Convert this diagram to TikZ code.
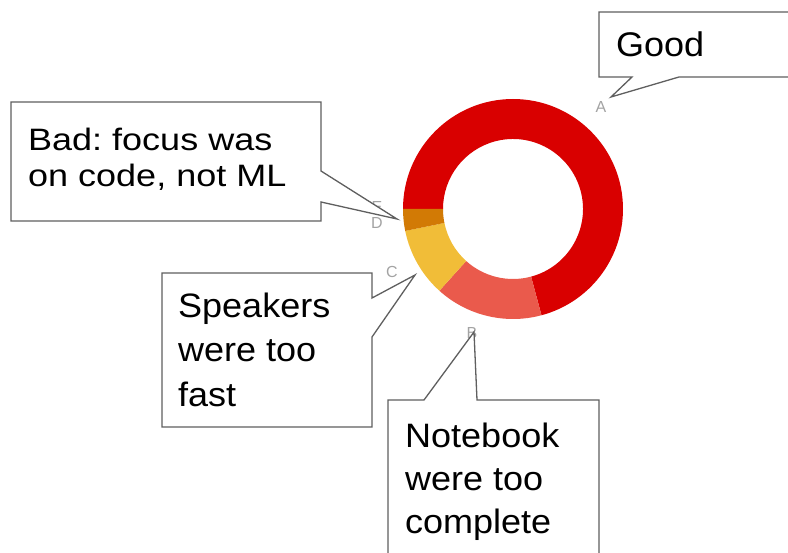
\documentclass[tikz,border=0pt]{standalone}
\usepackage{fontspec}
\setmainfont{Liberation Sans}
\usepackage{graphicx}
\definecolor{sliceA}{HTML}{D90000}
\definecolor{sliceB}{HTML}{EA5A4C}
\definecolor{sliceC}{HTML}{F1BD38}
\definecolor{sliceD}{HTML}{D27A05}
\definecolor{calloutline}{HTML}{5F5F5F}
\definecolor{slicelabel}{HTML}{A3A3A3}
\frenchspacing
\begin{document}
\begin{tikzpicture}[x=1pt,y=-1pt,
  callout/.style={draw=calloutline,fill=white,line width=1.3pt},
  bigtext/.style={anchor=base west,inner sep=0pt,font=\fontsize{36}{43}\selectfont},
  slicetag/.style={inner sep=0pt,text=slicelabel,font=\fontsize{16}{18}\selectfont}]
\useasboundingbox (0,0) rectangle (788,553);
\clip (0,0) rectangle (788,553);

% donut chart
\coordinate (ctr) at (513,209);
\fill[sliceA] ([shift={(180:110)}]ctr) arc[start angle=180,end angle=435,radius=110]
  -- ([shift={(435:70)}]ctr) arc[start angle=435,end angle=180,radius=70] -- cycle;
\fill[sliceB] ([shift={(75:110)}]ctr) arc[start angle=75,end angle=132,radius=110]
  -- ([shift={(132:70)}]ctr) arc[start angle=132,end angle=75,radius=70] -- cycle;
\fill[sliceC] ([shift={(132:110)}]ctr) arc[start angle=132,end angle=168.5,radius=110]
  -- ([shift={(168.5:70)}]ctr) arc[start angle=168.5,end angle=132,radius=70] -- cycle;
\fill[sliceD] ([shift={(168.5:110)}]ctr) arc[start angle=168.5,end angle=180,radius=110]
  -- ([shift={(180:70)}]ctr) arc[start angle=180,end angle=168.5,radius=70] -- cycle;

% slice letters
\node[slicetag] (tagA) at (601,107) {A};
\node[slicetag] (tagB) at (472,333) {B};
\node[slicetag] (tagC) at (392,272) {C};
\node[slicetag] (tagD) at (377,223) {D};
\node[slicetag] (tagE) at (377,207) {E};

% callouts
\draw[callout] (599,12) -- (800,12) -- (800,77) -- (679,77) -- (611,97)
  -- (632,77) -- (599,77) -- cycle;
\draw[callout] (11,102) -- (321,102) -- (321,171) -- (397,219) -- (321,202)
  -- (321,221) -- (11,221) -- cycle;
\draw[callout] (162,273) -- (372,273) -- (372,298) -- (415,275) -- (372,337)
  -- (372,427) -- (162,427) -- cycle;
\draw[callout] (388,400) -- (424,400) -- (474,332) -- (477,400) -- (599,400)
  -- (599,570) -- (388,570) -- cycle;

% callout texts
\node[bigtext] (good) at (616,57) {\scalebox{1}[0.95]{Good}};
\node[bigtext] (bad1) at (28,151) {\scalebox{1}[0.86]{Bad: focus was}};
\node[bigtext] (bad2) at (28,187) {\scalebox{1}[0.86]{on code, not ML}};
\node[bigtext] (spk1) at (178,318) {\scalebox{1}[0.94]{Speakers}};
\node[bigtext] (spk2) at (178,362) {\scalebox{1}[0.94]{were too}};
\node[bigtext] (spk3) at (178,407) {\scalebox{1}[0.94]{fast}};
\node[bigtext] (nb1) at (405,448) {\scalebox{1}[0.94]{Notebook}};
\node[bigtext] (nb2) at (405,490) {\scalebox{1}[0.94]{were too}};
\node[bigtext] (nb3) at (405,533) {\scalebox{1}[0.94]{complete}};
\end{tikzpicture}
\end{document}
